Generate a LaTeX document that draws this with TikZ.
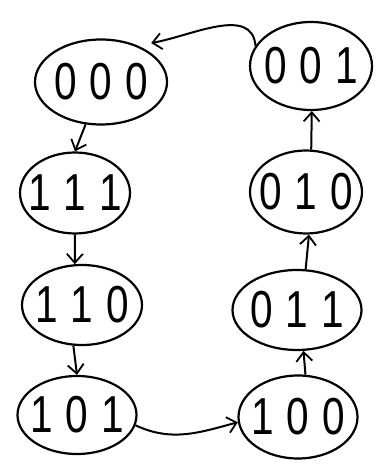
\documentclass[tikz,border=0pt]{standalone}
\usepackage{fontspec}
\setmainfont{Liberation Sans}
\newfontfamily\handfont[FakeStretch=0.78]{Liberation Sans}
\usetikzlibrary{shapes.geometric,arrows.meta}
\begin{document}
\begin{tikzpicture}[x=1pt,y=1pt,
  state/.style={ellipse,draw,line width=2.2pt,inner sep=0pt,
    font=\handfont\fontsize{52}{52}\selectfont},
  tr/.style={line width=2pt,-{Straight Barb[length=9pt,width=16pt,line width=1.8pt]}}]
\useasboundingbox (0,0) rectangle (382,473);
\newcommand{\dd}[3]{\makebox[0pt]{#1\hspace{13pt}#2\hspace{13pt}#3}}
\node[state,minimum width=132pt,minimum height=85pt] (n000) at (101,391) {\dd000};
\node[state,minimum width=110pt,minimum height=81pt] (n111) at (75,280) {\dd111};
\node[state,minimum width=120pt,minimum height=80pt] (n110) at (82,168) {\dd110};
\node[state,minimum width=119pt,minimum height=78pt] (n101) at (77,58) {\dd101};
\node[state,minimum width=122pt,minimum height=88pt] (n001) at (311,407) {\dd001};
\node[state,minimum width=112pt,minimum height=83pt] (n010) at (306,281) {\dd010};
\node[state,minimum width=129pt,minimum height=80pt] (n011) at (297,163) {\dd011};
\node[state,minimum width=119pt,minimum height=83pt] (n100) at (298,56) {\dd100};
\draw[tr] (n000.250) -- (n111.north);
\draw[tr] (n111.south) -- (n110.100);
\draw[tr] (n110.258) -- (n101.north);
\draw[tr] (n101.350) to[out=-25,in=195] (n100.185);
\draw[tr] (n100.80) -- (n011.-81);
\draw[tr] (n011.78) -- (n010.-86);
\draw[tr] (n010.83) -- (n001.-89);
\draw[tr] (n001.160) to[out=95,in=10] ([shift={(0,10)}]n000.30);
\end{tikzpicture}
\end{document}
